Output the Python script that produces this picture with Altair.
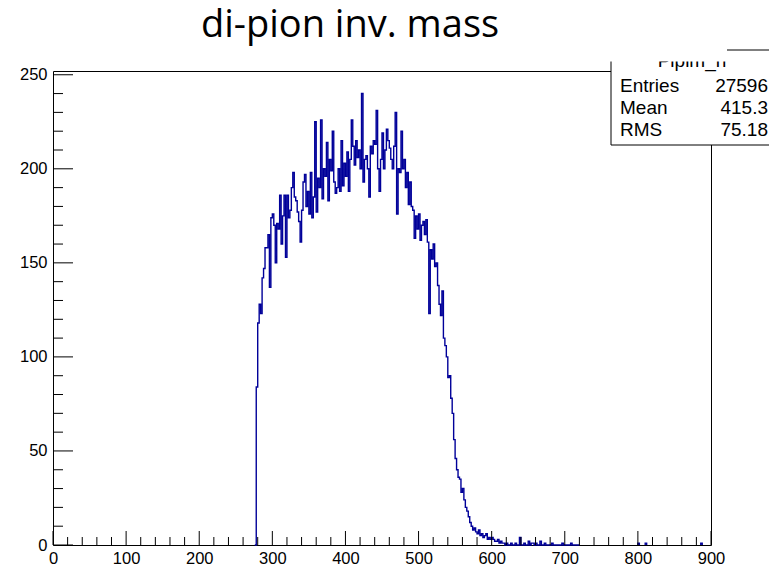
import altair as alt
import pandas as pd

# ---- data (bin width 2, first bin edge 278) ----
first_edge = 278
bin_width = 2
counts = [
    84, 118, 128, 123, 142, 147, 158, 158, 165, 137,
    174, 176, 170, 150, 171, 168, 186, 160, 175, 186,
    153, 186, 174, 178, 190, 198, 185, 183, 177, 172,
    161, 178, 193, 197, 180, 188, 176, 198, 174, 185,
    225, 177, 195, 190, 226, 184, 200, 196, 214, 183,
    205, 199, 220, 193, 187, 190, 200, 188, 215, 191,
    203, 196, 209, 188, 205, 226, 212, 202, 215, 206,
    210, 200, 240, 193, 205, 207, 200, 185, 212, 208,
    215, 213, 231, 200, 188, 205, 219, 200, 210, 221,
    215, 211, 205, 200, 212, 230, 176, 200, 198, 220,
    200, 205, 190, 198, 181, 193, 180, 178, 163, 175,
    168, 176, 162, 170, 172, 165, 173, 161, 123, 157,
    152, 160, 148, 150, 138, 128, 122, 135, 110, 106,
    100, 89, 90, 78, 70, 56, 46, 40, 36, 35,
    28, 30, 24, 20, 18, 15, 12, 10, 8, 9,
    7, 6, 8, 5, 6, 4, 5, 6, 3, 4,
    3, 4, 3, 2, 2, 3, 1, 2, 1, 1,
    0, 1, 0, 0, 1, 0, 0, 1, 0, 0,
    4, 0, 0, 1, 0, 0, 2, 0, 1, 1,
    0, 1, 0, 0, 2, 0, 0, 1, 0, 0,
    0, 0, 1, 0, 0, 0, 0, 0, 0, 1,
    0, 0, 0, 0, 0, 1, 0, 0, 0, 0,
    0,
]
tail_edges = [800, 810, 886]
tail_counts = [1, 1, 1]

stat_names = ["Entries", "Mean", "RMS"]
stat_values = ["27596", "415.3", "75.18"]
hist_name = "Pipim_n"
title_text = "di-pion inv. mass"

x_major = list(range(0, 901, 100))
x_minor = [v for v in range(0, 901, 20) if v % 100]
y_major = [0, 50, 100, 150, 200, 250]
y_minor = [v for v in range(0, 251, 10) if v % 50]

# ---- build step-outline table ----
rows = []
idx = 0
rows.append({"x": first_edge - bin_width, "y": 0, "seg": "main", "i": idx}); idx += 1
for k, c in enumerate(counts):
    rows.append({"x": first_edge + k * bin_width, "y": c, "seg": "main", "i": idx}); idx += 1
rows.append({"x": first_edge + len(counts) * bin_width, "y": 0, "seg": "main", "i": idx}); idx += 1
for j, (e, c) in enumerate(zip(tail_edges, tail_counts)):
    s = f"tail{j}"
    rows.append({"x": e, "y": 0, "seg": s, "i": idx}); idx += 1
    rows.append({"x": e, "y": c, "seg": s, "i": idx}); idx += 1
    rows.append({"x": e + bin_width, "y": 0, "seg": s, "i": idx}); idx += 1
hist = pd.DataFrame(rows)

W, H = 658, 474
FONT = "Liberation Sans"
xs = alt.Scale(domain=[0, 900], nice=False, zero=False)
ys = alt.Scale(domain=[0, 252], nice=False, zero=True)
xaxis = alt.Axis(values=x_major, ticks=False, domain=False, grid=False, title=None,
                 labelFont=FONT, labelFontSize=16.5, labelColor="#000", labelPadding=5,
                 labelFlush=False, labelOverlap=False)
yaxis = alt.Axis(values=y_major, ticks=False, domain=False, grid=False, title=None,
                 labelFont=FONT, labelFontSize=16.5, labelColor="#000", labelPadding=6,
                 labelOverlap=False)

line = alt.Chart(hist).mark_line(interpolate="step-after", color="#000099", strokeWidth=1.4).encode(
    x=alt.X("x:Q", scale=xs, axis=xaxis),
    y=alt.Y("y:Q", scale=ys, axis=yaxis),
    detail="seg:N",
    order="i:Q",
)

def yticks(vals, length):
    return alt.Chart(pd.DataFrame({"v": vals})).mark_rule(color="#000", strokeWidth=1).encode(
        y=alt.Y("v:Q", scale=ys, axis=yaxis), x=alt.value(0), x2=alt.value(length))

def xticks(vals, length):
    return alt.Chart(pd.DataFrame({"v": vals})).mark_rule(color="#000", strokeWidth=1).encode(
        x=alt.X("v:Q", scale=xs, axis=xaxis), y=alt.value(H), y2=alt.value(H - length))

one = pd.DataFrame({"a": [0]})

title = alt.Chart(one).mark_text(text=title_text, font="Open Sans", fontSize=38, align="center",
                                 baseline="alphabetic", color="#000").encode(
    x=alt.value(297), y=alt.value(-34))

box = alt.Chart(one).mark_rect(fill="white", stroke="#000", strokeWidth=1).encode(
    x=alt.value(558), x2=alt.value(722), y=alt.value(-21), y2=alt.value(74))

header = alt.Chart(one).mark_text(text=hist_name, font=FONT, fontSize=19, align="center",
                                  baseline="alphabetic", color="#000").encode(
    x=alt.value(639), y=alt.value(-4))

cover = alt.Chart(one).mark_rect(fill="white").encode(
    x=alt.value(554), x2=alt.value(722), y=alt.value(-45), y2=alt.value(-9.5))

topline = alt.Chart(one).mark_rule(color="#000", strokeWidth=1).encode(
    x=alt.value(674), x2=alt.value(720), y=alt.value(-21))

row_y = [15, 37, 59]
stat_layers = []
for name, val, yy in zip(stat_names, stat_values, row_y):
    stat_layers.append(alt.Chart(one).mark_text(text=name, font=FONT, fontSize=19, align="left",
                                                baseline="middle", color="#000").encode(
        x=alt.value(567), y=alt.value(yy)))
    stat_layers.append(alt.Chart(one).mark_text(text=val, font=FONT, fontSize=19, align="right",
                                                baseline="middle", color="#000").encode(
        x=alt.value(715), y=alt.value(yy)))

chart = alt.layer(
    line,
    yticks(y_major, 20), yticks(y_minor, 10),
    xticks(x_major, 14), xticks(x_minor, 8),
    box, header, cover, topline, *stat_layers, title,
).properties(
    width=W, height=H,
    autosize=alt.AutoSizeParams(type="none"),
    padding={"left": 53, "top": 71, "right": 58, "bottom": 24},
    background="white",
).configure_view(stroke="#000", strokeWidth=1)

chart.save("out.html", embed_options={"renderer": "svg", "actions": False})
